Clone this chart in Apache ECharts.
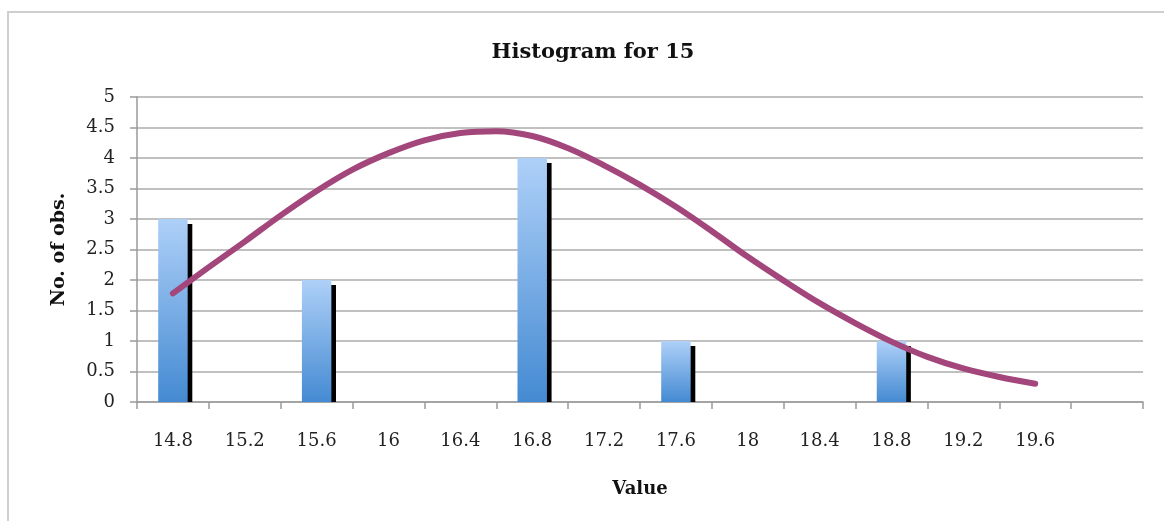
<!DOCTYPE html>
<html>
<head>
<meta charset="utf-8">
<script src="https://cdn.jsdelivr.net/npm/echarts@6/dist/echarts.min.js"></script>
<style>
html,body{margin:0;padding:0;background:#fff;}
#frame{position:absolute;left:7px;top:11px;width:1170px;height:520px;border-left:2px solid #cfcfcf;border-top:2px solid #cfcfcf;}
#chart{position:absolute;left:0;top:0;width:1164px;height:521px;}
</style>
</head>
<body>
<div id="frame"></div>
<div id="chart"></div>
<script>
const categories = ['14.8','15.2','15.6','16','16.4','16.8','17.2','17.6','18','18.4','18.8','19.2','19.6',''];
const counts = [3,0,2,0,0,4,0,1,0,0,1,0,0,0];
// normal curve at steps of 0.2
const curveX = [14.8,15.0,15.2,15.4,15.6,15.8,16.0,16.2,16.4,16.6,16.8,17.0,17.2,17.4,17.6,17.8,18.0,18.2,18.4,18.6,18.8,19.0,19.2,19.4,19.6];
const curveY = [1.78,2.21,2.63,3.06,3.46,3.81,4.08,4.29,4.41,4.44,4.36,4.16,3.88,3.56,3.20,2.80,2.38,1.99,1.62,1.29,0.99,0.74,0.55,0.41,0.30];
const yTicks = {min:0, max:5, interval:0.5};
const xRange = {min:14.6, max:20.2};

const FONT = 'DejaVu Serif';
const chart = echarts.init(document.getElementById('chart'), null, {renderer:'canvas'});
chart.setOption({
  animation:false,
  backgroundColor:'transparent',
  title:{text:'Histogram for 15', left:588, top:37, textAlign:'center',
    textStyle:{fontFamily:FONT, fontWeight:'bold', fontSize:21, color:'#111'}},
  grid:{left:137, right:21, top:97, bottom:119},
  xAxis:[{type:'category', data:categories, boundaryGap:true,
    name:'Value', nameLocation:'middle', nameGap:78,
    nameTextStyle:{fontFamily:FONT, fontWeight:'bold', fontSize:18, color:'#111'},
    axisLine:{lineStyle:{color:'#9a9a9a', width:1.5}},
    axisTick:{show:true, length:7, lineStyle:{color:'#9a9a9a', width:1.5}},
    axisLabel:{fontFamily:FONT, fontSize:18, color:'#222', margin:30, interval:0},
    splitLine:{show:false}},
   {type:'value', min:xRange.min, max:xRange.max, show:false, position:'bottom'}],
  yAxis:{type:'value', min:yTicks.min, max:yTicks.max, interval:yTicks.interval,
    name:'No. of obs.', nameLocation:'middle', nameGap:68, nameRotate:90,
    nameTextStyle:{fontFamily:FONT, fontWeight:'bold', fontSize:19, color:'#111'},
    axisLine:{show:true, lineStyle:{color:'#9a9a9a', width:1.5}},
    axisTick:{show:true, length:7, lineStyle:{color:'#9a9a9a', width:1.5}},
    axisLabel:{fontFamily:FONT, fontSize:18, color:'#222', margin:22},
    splitLine:{lineStyle:{color:'#ababab', width:1.5}}},
  series:[
    {type:'custom', z:1, xAxisIndex:0, data:counts.map((v,i)=>[i,v]),
      renderItem:function(params, api){
        const v = api.value(1);
        if(!v) return null;
        const top = api.coord([api.value(0), v]);
        const base = api.coord([api.value(0), 0]);
        const bw = api.size([1,0])[0]*0.4;
        return {type:'rect', shape:{x:top[0]+bw/2-1, y:top[1]+5, width:6, height:base[1]-top[1]-5},
          style:{fill:'#000'}};
      }},
    {type:'bar', z:2, xAxisIndex:0, data:counts, barWidth:'41%',
      itemStyle:{color:new echarts.graphic.LinearGradient(0,0,0,1,[
        {offset:0,color:'#aed0f8'},{offset:1,color:'#448ad2'}])}},
    {type:'line', z:3, xAxisIndex:1, data:curveX.map((x,i)=>[x,curveY[i]]), smooth:0.35, symbol:'none',
      lineStyle:{color:'#a3467b', width:6, cap:'round', join:'round'}}
  ]
});
</script>
</body>
</html>
